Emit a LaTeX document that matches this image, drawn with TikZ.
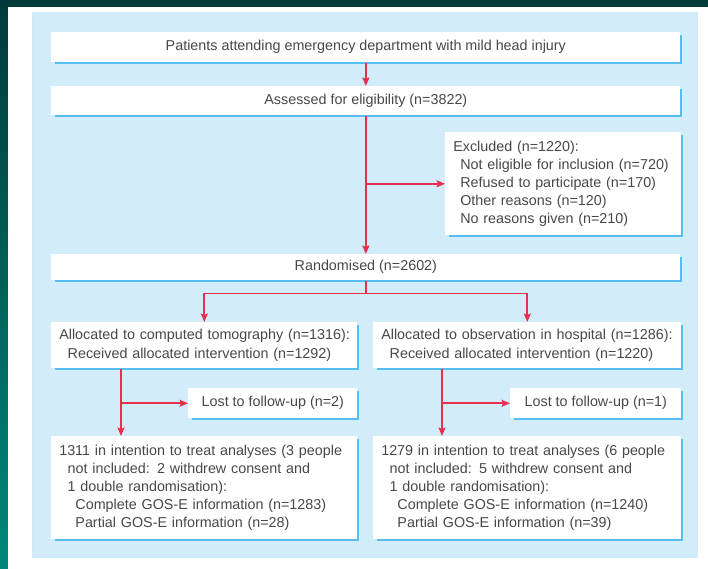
\documentclass[tikz,border=0pt]{standalone}
\usepackage{fontspec}
\setmainfont{Liberation Sans}
\usepackage{xcolor}
\usetikzlibrary{arrows.meta,positioning,calc}
\definecolor{clrR}{RGB}{232,48,78}
\definecolor{clrE}{RGB}{88,190,240}
\definecolor{clrT}{RGB}{72,72,72}
\definecolor{bgP}{RGB}{210,236,250}
\definecolor{bgD}{RGB}{0,58,58}
\definecolor{bgL}{RGB}{0,136,122}
\tikzset{
  box/.style={rectangle,fill=white,text=clrT,font=\fontsize{10.2}{12.9}\selectfont,
    inner xsep=0.2cm,inner ysep=2pt,anchor=north west},
  wide/.style={box,align=center,minimum width=15.725cm},
  info/.style={box,align=left},
  lost/.style={box,align=center,minimum height=0.75cm},
  arrow/.style={-{Stealth[length=6pt,width=5pt,inset=1pt]},line width=1.2pt,color=clrR},
  link/.style={line width=1.2pt,color=clrR},
  rim/.style={line width=1.4pt,color=clrE}
}
\begin{document}
\begin{tikzpicture}[x=0.025cm,y=-0.025cm]
  \useasboundingbox (0,0) rectangle (708,569);
  \shade[top color=bgD,bottom color=bgL] (0,0) rectangle (708,569);
  \fill[white] (8,7) rectangle (708,569);
  \filldraw[fill=bgP,draw=clrE!30,line width=1pt] (33,13) rectangle (697,557);
  \node[wide,minimum height=0.75cm] (pat) at (51,32)
    {Patients attending emergency department with mild head injury};
  \node[wide,minimum height=0.725cm] (elig) at (51,86)
    {Assessed for eligibility (n=3822)};
  \node[info,text width=5.5cm,minimum height=2.575cm] (excl) at (445,132)
    {Excluded (n=1220):\\\hspace*{5pt}Not eligible for inclusion (n=720)\\
     \hspace*{5pt}Refused to participate (n=170)\\\hspace*{5pt}Other reasons (n=120)\\
     \hspace*{5pt}No reasons given (n=210)};
  \node[wide,minimum height=0.65cm] (rand) at (51,254)
    {Randomised (n=2602)};
  \node[info,text width=7.25cm,minimum height=1.15cm] (ct) at (51,322)
    {\mbox{Allocated to computed tomography (n=1316):}\\\hspace*{6pt}Received allocated intervention (n=1292)};
  \node[info,text width=7.3cm,minimum height=1.15cm] (obs) at (373,322)
    {\mbox{Allocated to observation in hospital (n=1286):}\\\hspace*{6pt}Received allocated intervention (n=1220)};
  \node[lost,minimum width=4.225cm] (lostct) at (188,388) {Lost to follow-up (n=2)};
  \node[lost,minimum width=4.275cm] (lostobs) at (510,388) {Lost to follow-up (n=1)};
  \node[info,text width=7.25cm,minimum height=2.575cm] (ittct) at (51,436)
    {1311 in intention to treat analyses (3 people\\\hspace*{6pt}not included: 2 withdrew consent and\\
     \hspace*{6pt}1 double randomisation):\\\hspace*{11.5pt}Complete GOS-E information (n=1283)\\
     \hspace*{11.5pt}Partial GOS-E information (n=28)};
  \node[info,text width=7.3cm,minimum height=2.575cm] (ittobs) at (373,436)
    {1279 in intention to treat analyses (6 people\\\hspace*{6pt}not included: 5 withdrew consent and\\
     \hspace*{6pt}1 double randomisation):\\\hspace*{11.5pt}Complete GOS-E information (n=1240)\\
     \hspace*{11.5pt}Partial GOS-E information (n=39)};
  % blue edge on the right and bottom of each box
  \foreach \b in {pat,elig,excl,rand,ct,obs,lostct,lostobs,ittct,ittobs}
    \draw[rim] ($(\b.north east)+(0,3)$) -- (\b.south east) -- ($(\b.south west)+(4,0)$);
  \draw[arrow] (pat) -- (elig);
  \draw[arrow] (elig) -- (rand);
  \draw[arrow] (elig.south |- excl.west) -- (excl);
  \coordinate (split) at ($(rand.south)+(0,13)$);
  \draw[link] (rand) -- (split);
  \draw[arrow] (split) -| (ct);
  \draw[arrow] (split) -| (obs);
  \coordinate (ctdown) at ($(ct.south west)+(70,0)$);
  \coordinate (obsdown) at ($(obs.south west)+(69,0)$);
  \draw[arrow] (ctdown) -- (ctdown |- ittct.north);
  \draw[arrow] (ctdown |- lostct.west) -- (lostct);
  \draw[arrow] (obsdown) -- (obsdown |- ittobs.north);
  \draw[arrow] (obsdown |- lostobs.west) -- (lostobs);
\end{tikzpicture}
\end{document}
